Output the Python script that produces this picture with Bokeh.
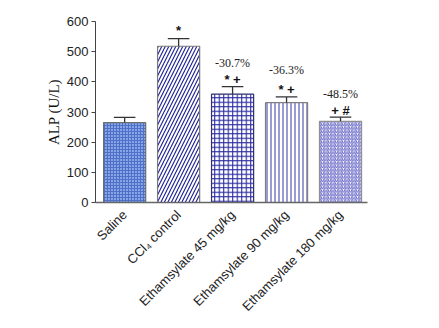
import math
from bokeh.plotting import figure
from bokeh.models import ColumnDataSource, FixedTicker, Range1d
from bokeh.core.properties import value
from bokeh.embed import file_html
from bokeh.resources import INLINE

groups = ["Saline", "CCl\u2084 control", "Ethamsylate 45 mg/kg",
          "Ethamsylate 90 mg/kg", "Ethamsylate 180 mg/kg"]
means = [265, 518, 359, 331, 269]
errors = [17, 25, 25, 19, 14]
pct_labels = ["", "", "-30.7%", "-36.3%", "-48.5%"]
sig_labels = ["", "*", "* +", "* +", "+ #"]
y_ticks = [0, 100, 200, 300, 400, 500, 600]

fill_colors = ["#87a7e8", "#ffffff", "#ffffff", "#ffffff", "#ffffff"]
hatch_patterns = ["+", "/", "+", "|", "/"]
hatch_colors = ["#4f70c6", "#1c1c96", "#2a2aa0", "#4848b0", "#6a6ac8"]
hatch_scales = [3, 7, 4.5, 4, 3.5]
line_colors = ["#6d6d6d", "#7a7a7a", "#303070", "#808080", "#909090"]

xs = list(range(len(groups)))

p = figure(width=439, height=328, output_backend="svg", toolbar_location=None,
           x_range=Range1d(-0.54, 4.5), y_range=Range1d(0, 600),
           min_border_left=95, min_border_right=72, min_border_top=21,
           min_border_bottom=126)
p.outline_line_color = None
p.xgrid.visible = False
p.ygrid.visible = False
p.background_fill_color = "white"
p.border_fill_color = "white"

for i in xs:
    p.vbar(x=[xs[i]], top=[means[i]], width=0.78, bottom=0,
           fill_color=fill_colors[i], line_color=line_colors[i], line_width=1.2,
           hatch_pattern=hatch_patterns[i], hatch_color=hatch_colors[i],
           hatch_scale=hatch_scales[i], hatch_weight=1.1)

tops = [m + e for m, e in zip(means, errors)]
p.segment(x0=xs, y0=means, x1=xs, y1=tops, line_color="#333333", line_width=1.3)
p.segment(x0=[x - 0.2 for x in xs], y0=tops, x1=[x + 0.2 for x in xs], y1=tops,
          line_color="#333333", line_width=1.3)

sig_y = [0, tops[1] + 28, tops[2] + 24, tops[3] + 26, tops[4] + 22]
pct_y = [0, 0, tops[2] + 80, tops[3] + 88, tops[4] + 78]
src_sig = ColumnDataSource(dict(x=xs, y=sig_y, t=sig_labels))
p.text(x="x", y="y", text="t", source=src_sig, text_align="center",
       text_baseline="middle", text_font=value("Liberation Sans"),
       text_font_size="13px", text_font_style="bold", text_color="#111111")
src_pct = ColumnDataSource(dict(x=xs, y=pct_y, t=pct_labels))
p.text(x="x", y="y", text="t", source=src_pct, text_align="center",
       text_baseline="middle", text_font=value("Liberation Serif"),
       text_font_size="12px", text_color="#222222")

p.yaxis.ticker = FixedTicker(ticks=y_ticks)
p.yaxis.axis_label = "ALP (U/L)"
p.yaxis.axis_label_text_font = "Liberation Serif"
p.yaxis.axis_label_text_font_size = "15px"
p.yaxis.axis_label_text_font_style = "normal"
p.yaxis.axis_label_text_color = "#111111"
p.yaxis.axis_label_standoff = 2
p.yaxis.major_label_standoff = 3
p.yaxis.major_label_text_font = "Liberation Sans"
p.yaxis.major_label_text_font_size = "13px"
p.yaxis.major_label_text_color = "#222222"
p.yaxis.axis_line_color = "#444444"
p.yaxis.major_tick_line_color = "#444444"
p.yaxis.major_tick_in = 0
p.yaxis.major_tick_out = 4
p.yaxis.minor_tick_line_color = None

p.xaxis.ticker = FixedTicker(ticks=xs)
p.xaxis.major_label_overrides = {i: g for i, g in enumerate(groups)}
p.xaxis.major_label_orientation = math.pi / 4
p.xaxis.major_label_text_font = "Liberation Sans"
p.xaxis.major_label_text_font_size = "13px"
p.xaxis.major_label_text_color = "#222222"
p.xaxis.major_label_standoff = 4
p.xaxis.axis_line_color = "#666666"
p.xaxis.axis_line_width = 1.5
p.xaxis.major_tick_line_color = None
p.xaxis.minor_tick_line_color = None

open("out.html", "w").write(file_html(p, INLINE))
